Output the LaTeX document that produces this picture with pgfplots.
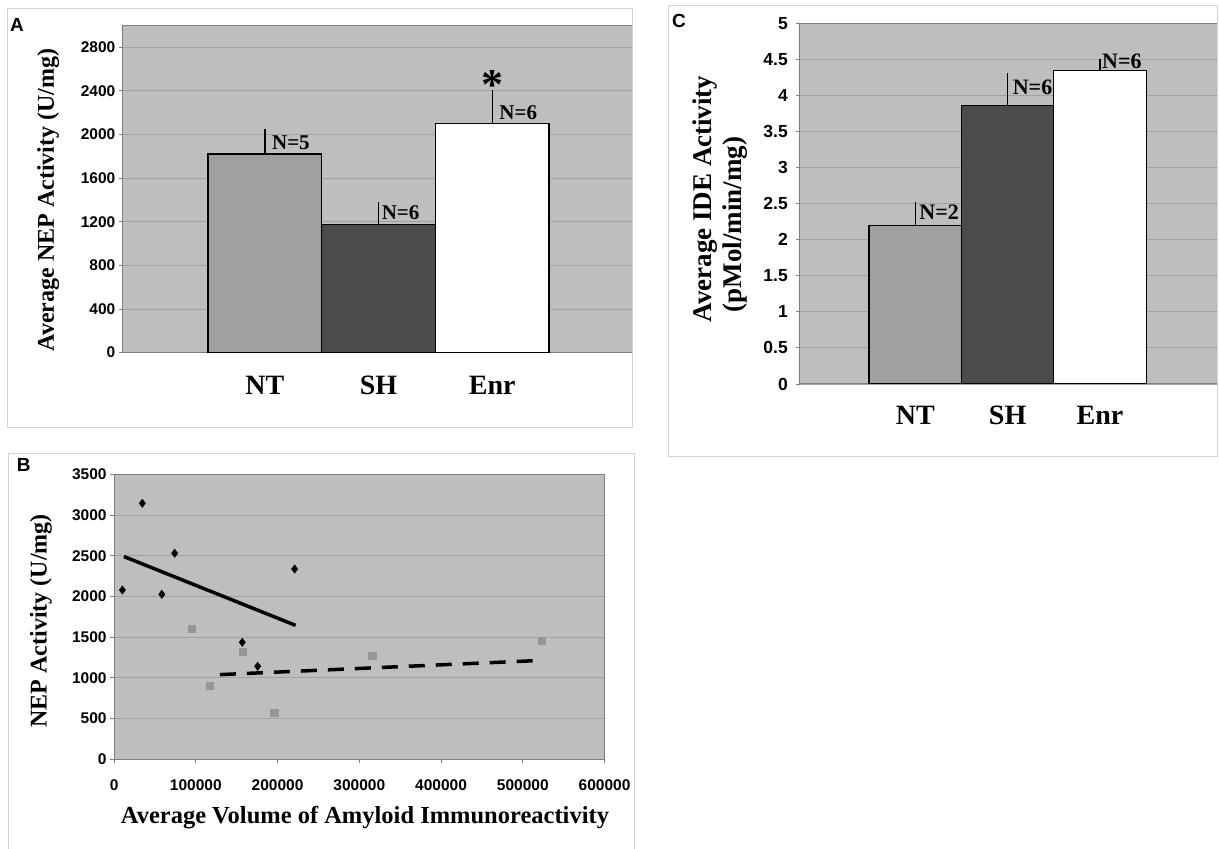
\documentclass[border=0pt]{standalone}
\usepackage{pgfplots}
\pgfplotsset{compat=1.18}
\usepackage{fontspec}
\setmainfont{Liberation Serif}
\newfontfamily\sansf{Liberation Sans}
\definecolor{plotbg}{RGB}{190,190,190}
\definecolor{gridc}{RGB}{162,162,162}
\definecolor{framec}{RGB}{212,212,212}
\definecolor{axisc}{RGB}{125,125,125}
\definecolor{ntc}{RGB}{160,160,160}
\definecolor{shc}{RGB}{75,75,75}
\definecolor{sqc}{RGB}{150,150,150}
\tikzset{nlab/.style={anchor=base west, inner sep=0pt, font=\bfseries\fontsize{21}{21}\selectfont}}
\pgfplotsset{
  panel/.style={
    scale only axis, anchor=south west,
    axis background/.style={fill=plotbg},
    axis line style={axisc, line width=1pt},
    ymajorgrids, grid style={gridc, line width=0.9pt},
    tick style={axisc, line width=0.9pt},
    tick align=outside, major tick length=4pt, tick pos=left,
    /pgf/number format/assume math mode=true,
    /pgf/number format/1000 sep={},
    ticklabel style={font=\sansf\bfseries\fontsize{15.5}{15.5}\selectfont},
    label style={font=\bfseries\fontsize{24}{24}\selectfont},
  },
  barpanel/.style={
    panel, xtick={0,1,2}, xticklabels={NT,SH,Enr},
    xtick style={draw=none},
    xmin=-1.25, ymin=0,
    xticklabel style={anchor=base, font=\bfseries\fontsize{28}{28}\selectfont},
  },
  mybar/.style={ybar, bar width=1, bar shift=0pt, draw=black, line width=1.3pt,
    error bars/y dir=plus, error bars/y explicit, error bars/error mark=none,
    error bars/error bar style={black, line width=1.3pt}},
}
\begin{document}
\begin{tikzpicture}[x=1pt,y=1pt]
\useasboundingbox (0pt,0pt) rectangle (1219pt,849pt);
% ---------------- Panel A ----------------
\begin{axis}[barpanel,
  at={(122.8pt,496.4pt)}, width=509.9pt, height=327.3pt,
  xmax=3.235, ymax=3000, ytick={0,400,...,2800},
  xticklabel style={yshift=-38.4pt},
  ylabel={Average NEP Activity (U/mg)},
  ylabel style={at={(axis description cs:-0.1243,0.466)}, anchor=south, inner sep=0pt},
]
\addplot[mybar, fill=ntc] coordinates {(0,1820) +- (0,227)};
\addplot[mybar, fill=shc] coordinates {(1,1174) +- (0,204)};
\addplot[mybar, fill=white] coordinates {(2,2102) +- (0,305)};
\node[nlab, xshift=7pt] at (axis cs:0,1862) {N=5};
\node[nlab, xshift=3pt] at (axis cs:1,1220) {N=6};
\node[nlab, xshift=7pt] at (axis cs:2,2141) {N=6};
\node[anchor=base, inner sep=0pt, font=\bfseries\fontsize{44}{44}\selectfont] at (axis cs:2,2320) {*};
\end{axis}
% ---------------- Panel C ----------------
\begin{axis}[barpanel,
  at={(799.8pt,465pt)}, width=417.5pt, height=360.7pt,
  xmax=3.27, ymax=5, ytick={0,0.5,...,5},
  yticklabels={0,0.5,1,1.5,2,2.5,3,3.5,4,4.5,5},
  yticklabel style={xshift=-4.5pt, font=\sansf\bfseries\fontsize{17.5}{17.5}\selectfont},
  xticklabel style={yshift=-37pt},
  ylabel={Average IDE Activity\\\hspace*{10pt}(pMol/min/mg)},
  ylabel style={at={(axis description cs:-0.1257,0.513)}, anchor=south, inner sep=0pt,
    align=left, font=\bfseries\fontsize{27}{30}\selectfont},
]
\addplot[mybar, fill=ntc] coordinates {(0,2.20) +- (0,0.32)};
\addplot[mybar, fill=shc] coordinates {(1,3.86) +- (0,0.45)};
\addplot[mybar, fill=white] coordinates {(2,4.35) +- (0,0.16)};
\node[nlab, xshift=4pt, font=\bfseries\fontsize{22}{22}\selectfont] at (axis cs:0,2.287) {N=2};
\node[nlab, xshift=5pt, font=\bfseries\fontsize{22}{22}\selectfont] at (axis cs:1,4.016) {N=6};
\node[nlab, xshift=2pt, font=\bfseries\fontsize{22}{22}\selectfont] at (axis cs:2,4.376) {N=6};
\end{axis}
% ---------------- Panel B ----------------
\begin{axis}[panel,
  at={(114.1pt,89.7pt)}, width=490.5pt, height=285pt,
  xmin=0, xmax=600000, ymin=0, ymax=3500,
  xtick={0,100000,...,600000}, ytick={0,500,...,3500},
  scaled x ticks=false,
  xticklabel style={yshift=-13.2pt, /pgf/number format/fixed, /pgf/number format/1000 sep={}},
  xlabel={Average Volume of Amyloid Immunoreactivity},
  xlabel style={at={(axis description cs:0.5,0)}, anchor=base, inner sep=0pt, yshift=-64pt, xshift=5.6pt,
    font=\bfseries\fontsize{24.5}{24.5}\selectfont},
  ylabel={NEP Activity (U/mg)},
  ylabel style={at={(axis description cs:-0.1264,0.486)}, anchor=south, inner sep=0pt},
]
\addplot[only marks, mark=square*, mark size=3.6pt, color=sqc] coordinates {
 (94880,1600) (116700,900) (157300,1318) (195900,572) (315700,1268) (523300,1457)};
\addplot[black, line width=3.5pt] coordinates {(12000,2490) (222000,1645)};
\addplot[black, line width=3.5pt, dash pattern=on 16pt off 11pt] coordinates {(129500,1040) (523300,1215)};
\addplot[only marks, mark=diamond*, mark size=4.2pt, color=black] coordinates {
 (10150,2079) (34500,3144) (58370,2026) (74100,2530) (156800,1437) (175600,1142) (220800,2337)};
\end{axis}
% ---------------- frames and panel letters ----------------
\draw[framec, line width=1pt] (7pt,421pt) rectangle (632.7pt,840pt);
\draw[framec, line width=1pt] (668pt,392.3pt) rectangle (1217.5pt,843pt);
\draw[framec, line width=1pt] (8.7pt,-10pt) rectangle (634.9pt,395.7pt);
\node[anchor=base west, inner sep=0pt, font=\sansf\bfseries\fontsize{19}{19}\selectfont] at (10pt,817.3pt) {A};
\node[anchor=base west, inner sep=0pt, font=\sansf\bfseries\fontsize{19}{19}\selectfont] at (16.6pt,377.3pt) {B};
\node[anchor=base west, inner sep=0pt, font=\sansf\bfseries\fontsize{19}{19}\selectfont] at (672pt,821pt) {C};
\end{tikzpicture}
\end{document}
